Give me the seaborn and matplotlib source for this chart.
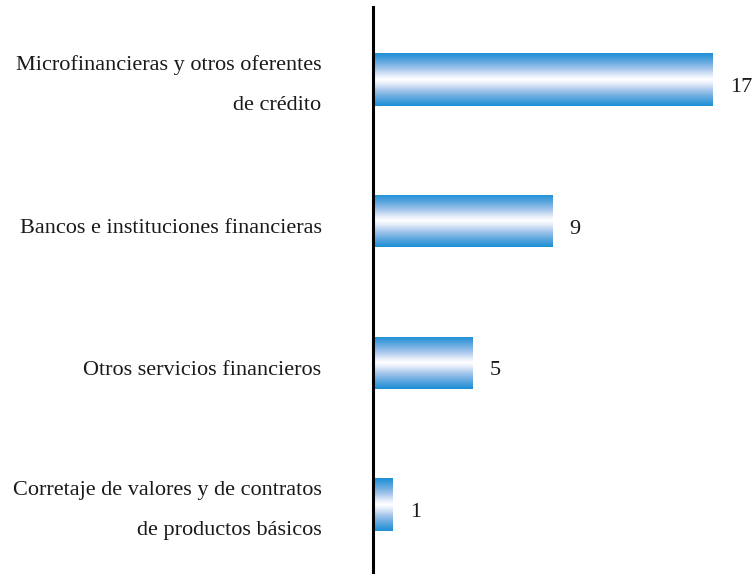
import numpy as np
import pandas as pd
import matplotlib
matplotlib.use("Agg")
import matplotlib.pyplot as plt
import matplotlib.transforms as mtransforms
import seaborn as sns
from matplotlib.colors import LinearSegmentedColormap

# Data
categories = [
    "Microfinancieras y otros oferentes\nde crédito",
    "Bancos e instituciones financieras",
    "Otros servicios financieros",
    "Corretaje de valores y de contratos\nde productos básicos",
]
values = [17, 9, 5, 1]

df = pd.DataFrame({"categoria": categories, "valor": values})

sns.set_theme(style="white")
plt.rcParams["font.family"] = ["Liberation Serif", "DejaVu Serif"]

fig = plt.figure(figsize=(7.53, 5.74), dpi=100)
ax = fig.add_axes([373 / 753, 0.0, 380 / 753, 1 - 7 / 574])

sns.barplot(data=df, y="categoria", x="valor", orient="h", width=0.37,
            color="#2291d6", ax=ax)

# vertical gradient fill: blue at edges, white in the middle
cmap = LinearSegmentedColormap.from_list(
    "barra", [(0.0, "#1b8fd6"), (0.14, "#58a4de"), (0.3, "#a6c6eb"),
              (0.42, "#e4edf9"), (0.5, "#ffffff"), (0.58, "#e4edf9"),
              (0.7, "#a6c6eb"), (0.86, "#58a4de"), (1.0, "#1b8fd6")])
grad = np.linspace(0, 1, 256).reshape(-1, 1)
for patch in ax.patches:
    x0, y0 = patch.get_x(), patch.get_y()
    w, h = patch.get_width(), patch.get_height()
    im = ax.imshow(grad, cmap=cmap, aspect="auto", interpolation="bicubic",
                   extent=(x0, x0 + w, y0 + h, y0), zorder=2)
    im.set_clip_path(patch)
    patch.set_facecolor("none")
    patch.set_edgecolor("none")

ax.set_xlim(0, 19)
ax.set_ylim(3.49, -0.51)

# small nudges so text sits like in the original
down = mtransforms.ScaledTranslation(0, -0.05, fig.dpi_scale_trans)
up = mtransforms.ScaledTranslation(0, 0.07, fig.dpi_scale_trans)

for cont in ax.containers:
    txts = ax.bar_label(cont, labels=[str(v) for v in values], padding=12,
                        fontsize=16, color="#1a1a1a")
    for t in txts:
        t.set_verticalalignment("center_baseline")
        t.xyann = (t.xyann[0], -4)

ax.set_xlabel("")
ax.set_ylabel("")
ax.set_xticks([])
ax.tick_params(axis="y", length=0, pad=37, labelsize=16, labelcolor="#1a1a1a")
for lab in ax.get_yticklabels():
    lab.set_linespacing(2.5)
    lab.set_horizontalalignment("right")
    lab.set_multialignment("right")
    if "\n" in lab.get_text():
        lab.set_transform(lab.get_transform() + up)
    else:
        lab.set_transform(lab.get_transform() + down)

for s in ["top", "right", "bottom"]:
    ax.spines[s].set_visible(False)
ax.spines["left"].set_color("black")
ax.spines["left"].set_linewidth(2.2)

fig.savefig("out.png", dpi=100, facecolor="white")
